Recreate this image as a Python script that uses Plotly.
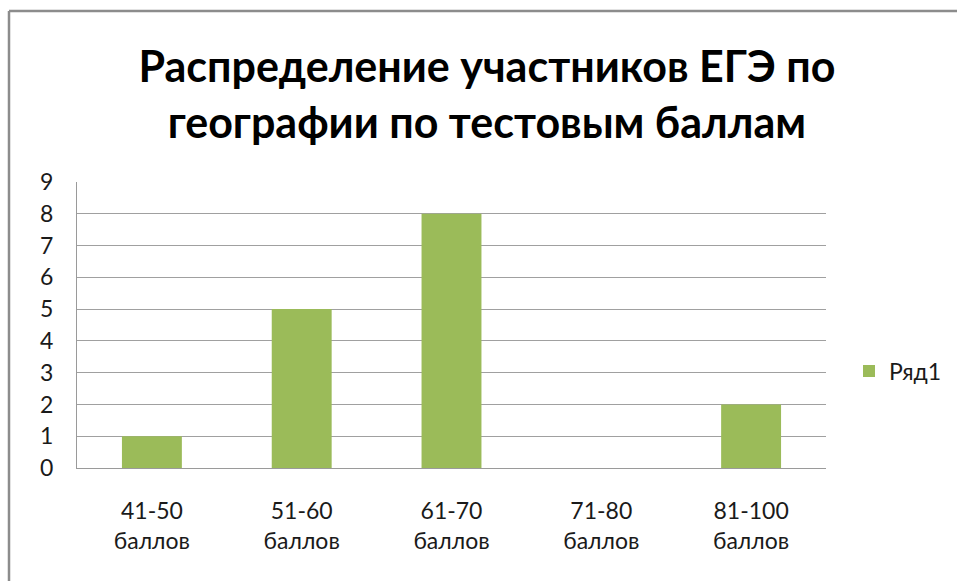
import plotly.graph_objects as go

categories = ["41-50<br>баллов", "51-60<br>баллов", "61-70<br>баллов", "71-80<br>баллов", "81-100<br>баллов"]
values = [1, 5, 8, 0, 2]
series_name = "Ряд1"
title_text = "Распределение участников ЕГЭ по<br>географии по тестовым баллам"
y_ticks = list(range(0, 10))

FONT = "Lato, 'Open Sans', sans-serif"
GREEN = "#9BBB59"

fig = go.Figure()
fig.add_trace(go.Bar(
    x=categories, y=values, name=series_name,
    marker=dict(color=GREEN, line=dict(width=0)),
    showlegend=True,
))

L, R, T, B = 77, 826, 182, 468
W, H = 957, 581

fig.update_layout(
    width=W, height=H,
    margin=dict(l=L, r=W - R, t=T, b=H - B, autoexpand=False),
    paper_bgcolor="white", plot_bgcolor="white",
    bargap=0.6,
    font=dict(family=FONT, color="#1a1a1a"),
    title=dict(
        text=title_text,
        x=487 / W, xanchor="center",
        y=1 - 82 / H, yanchor="middle",
        font=dict(family=FONT, size=43, color="#000000", weight="bold"),
    ),
    showlegend=True,
    legend=dict(
        x=(849 - L) / (R - L), xanchor="left",
        y=(B - 371) / (B - T), yanchor="middle",
        font=dict(family=FONT, size=23, color="#1a1a1a"),
        bgcolor="rgba(0,0,0,0)",
        itemwidth=30,
    ),
    xaxis=dict(
        type="category",
        showgrid=False,
        showline=True, linecolor="#9a9a9a", linewidth=1,
        ticks="", tickfont=dict(family=FONT, size=23, color="#1a1a1a"),
        ticklabelstandoff=22,
    ),
    yaxis=dict(
        range=[0, 9], tickvals=y_ticks,
        showgrid=True, gridcolor="#a0a0a0", gridwidth=1,
        showline=True, linecolor="#9a9a9a", linewidth=1,
        zeroline=False,
        ticks="", tickfont=dict(family=FONT, size=23, color="#1a1a1a"),
        ticklabelstandoff=18,
    ),
    shapes=[
        dict(type="line", xref="paper", yref="paper",
             x0=(9 - L) / (R - L), x1=(W + 5 - L) / (R - L),
             y0=(B - 11) / (B - T), y1=(B - 11) / (B - T),
             line=dict(color="#8c8c8c", width=2.5)),
        dict(type="line", xref="paper", yref="paper",
             x0=(9 - L) / (R - L), x1=(9 - L) / (R - L),
             y0=(B - 11) / (B - T), y1=(B - H - 5) / (B - T),
             line=dict(color="#8c8c8c", width=2.5)),
    ],
)

fig.write_html("out.html", config={"displayModeBar": False},
               post_script="document.body.style.margin='0';document.body.style.padding='0';")
